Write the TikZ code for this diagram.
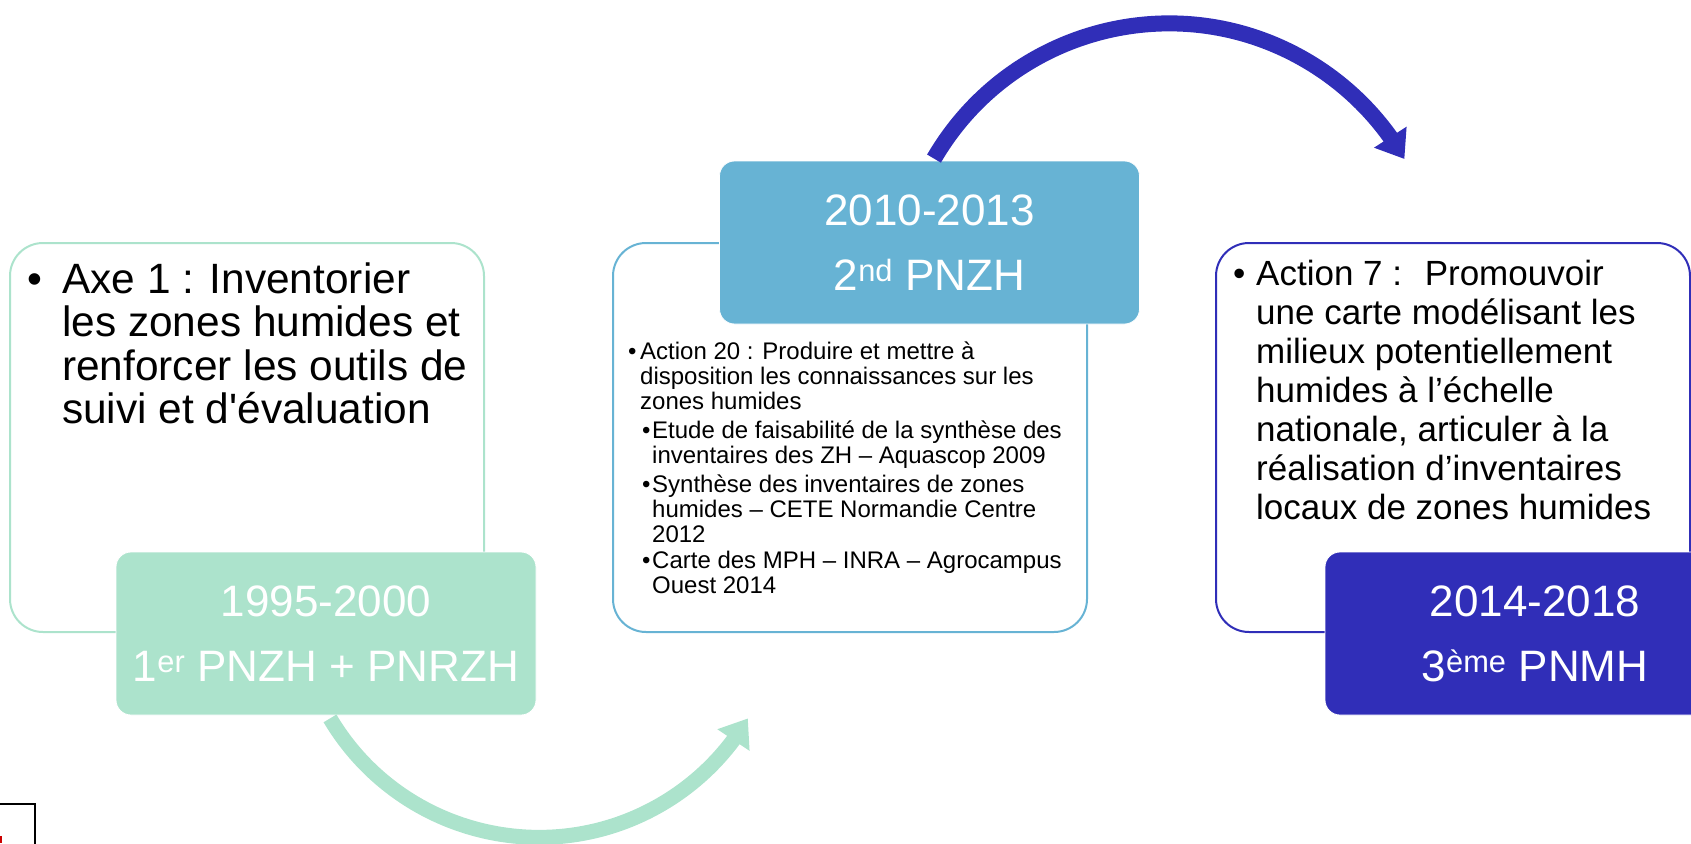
\documentclass[tikz,border=0pt]{standalone}
\usepackage{fontspec}
\setmainfont{Liberation Sans}
\usepackage{tikz}
\usetikzlibrary{arrows.meta,bending}

\definecolor{pzhgreen}{HTML}{ACE3CC}
\definecolor{pzhblue}{HTML}{67B3D4}
\definecolor{pnmhblue}{HTML}{302EB8}

\tikzset{
  planbox/.style={draw, line width=2pt, fill=white, rounded corners=33pt,
    minimum width=474pt, minimum height=389pt, inner sep=0pt},
  yearbox/.style={draw=white, line width=0.8pt, rounded corners=15pt,
    minimum width=420pt, minimum height=163pt, inner sep=0pt,
    text=white, align=center, font=\fontsize{44}{65}\selectfont},
  actiontext/.style={anchor=base west, align=left, inner sep=0pt},
  cyclearrow/.style={line width=15pt, -{Triangle[width=37pt,length=26pt]}}
}

\newcommand{\puce}[1]{\llap{\makebox[#1][l]{\textbullet}}}

\begin{document}
\begin{tikzpicture}[x=1pt,y=-1pt]

  \useasboundingbox (0,0) rectangle (1691,843);
  \clip (0,0) rectangle (1691,843);

  \node[planbox, draw=pzhgreen] (axe) at (247,437.5) {};
  \node[yearbox, fill=pzhgreen] (p1) at (326,633.5)
    {1995-2000\\1\textsuperscript{er} PNZH + PNRZH};
  \node[actiontext, font=\fontsize{42.4}{43.5}\selectfont] (axetxt) at (62,423.5)
    {\puce{35pt}Axe 1 : Inventorier\\
     les zones humides et\\
     renforcer les outils de\\
     suivi et d\textquotesingle évaluation};

  \node[planbox, draw=pzhblue] (act20) at (850,437.5) {};
  \node[yearbox, fill=pzhblue] (p2) at (929.5,242.5)
    {2010-2013\\2\textsuperscript{nd} PNZH};
  \node[actiontext, font=\fontsize{24}{25}\selectfont] (act20txt) at (640,593)
    {\puce{12pt}Action 20 : Produire et mettre à\\
     disposition les connaissances sur les\\
     zones humides\\[4pt]
     \hspace*{12pt}\puce{10pt}Etude de faisabilité de la synthèse des\\
     \hspace*{12pt}inventaires des ZH – Aquascop 2009\\[4pt]
     \hspace*{12pt}\puce{10pt}Synthèse des inventaires de zones\\
     \hspace*{12pt}humides – CETE Normandie Centre\\
     \hspace*{12pt}2012\\[1pt]
     \hspace*{12pt}\puce{10pt}Carte des MPH – INRA – Agrocampus\\
     \hspace*{12pt}Ouest 2014};

  \node[planbox, draw=pnmhblue] (act7) at (1453,437.5) {};
  \node[yearbox, fill=pnmhblue] (p3) at (1535,633.5)
    {2014-2018\\3\textsuperscript{ème} PNMH};
  \node[actiontext, font=\fontsize{35}{39}\selectfont] (act7txt) at (1256,519)
    {\puce{23pt}Action 7 :~ Promouvoir\\
     une carte modélisant les\\
     milieux potentiellement\\
     humides à l’échelle\\
     nationale, articuler à la\\
     réalisation d’inventaires\\
     locaux de zones humides};

  \coordinate (g1) at ([xshift=4pt,yshift=-3pt]p1.south);
  \coordinate (b1) at ([xshift=4.5pt,yshift=2pt]p2.north);
  \draw[cyclearrow, pzhgreen] (g1) arc[start angle=149.3, end angle=30.7, radius=243];
  \draw[cyclearrow, line width=16pt, pnmhblue] (b1) arc[start angle=210.2, end angle=329.9, radius=272];

  \draw[line width=1.5pt] (-2,804) rectangle (35,846);
  \fill[red!80!black] (0,836) rectangle (1.5,843);

\end{tikzpicture}
\end{document}
